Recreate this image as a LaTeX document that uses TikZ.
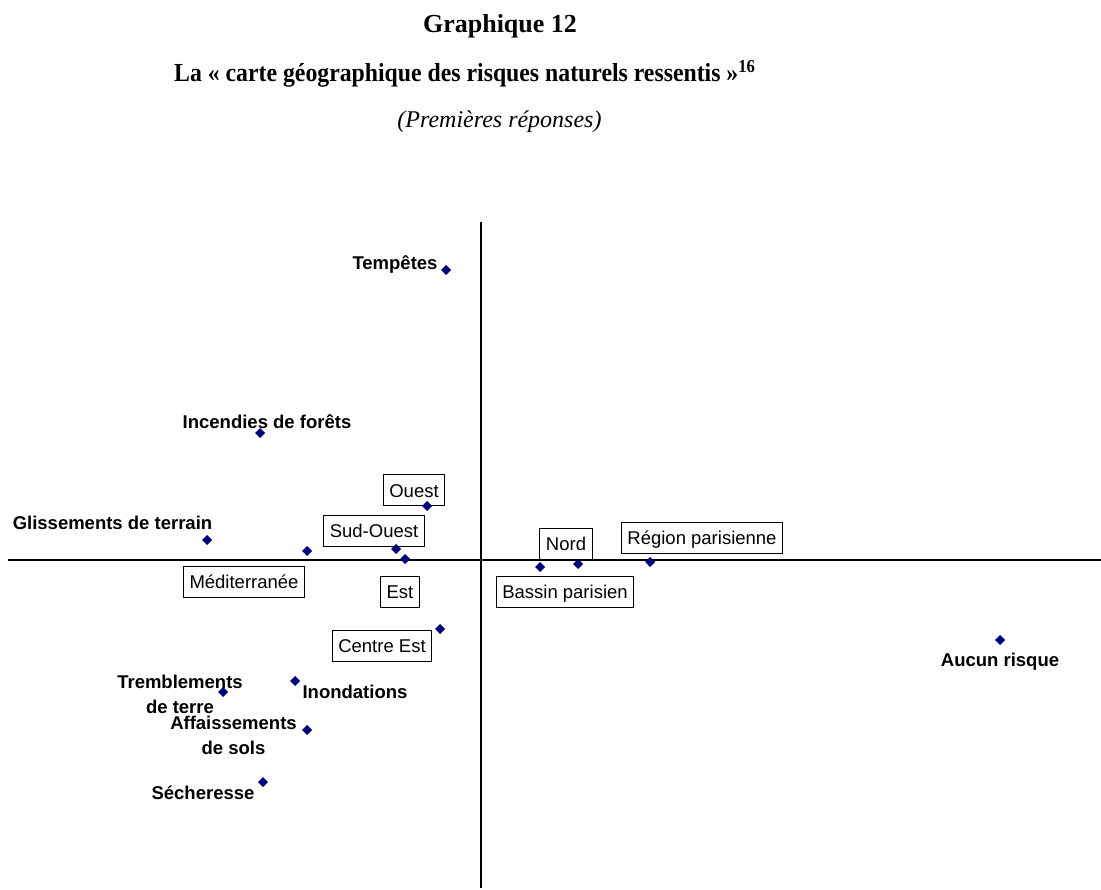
\documentclass[tikz,border=0pt]{standalone}
\usepackage{fontspec}
\setmainfont{Liberation Serif}
\setsansfont{Liberation Sans}
\usetikzlibrary{shapes.geometric}
\definecolor{navy}{RGB}{0,0,128}

\begin{document}
\begin{tikzpicture}[x=1pt,y=-1pt]
  \tikzset{PointStyle/.style = {
    shape         = diamond,
    draw          = none,
    fill          = navy,
    inner sep     = 0pt,
    outer sep     = 0pt,
    minimum size  = 10pt
    }
  }
  \tikzset{RiskStyle/.style = {
    anchor        = base,
    align         = center,
    text          = black,
    inner sep     = 0pt,
    font          = \sffamily\bfseries\fontsize{18.5}{25}\selectfont
    }
  }
  \tikzset{RegionStyle/.style = {
    shape         = rectangle,
    draw          = black,
    fill          = white,
    line width    = 1pt,
    text          = black,
    text height   = 13.2pt,
    text depth    = 0pt,
    inner xsep    = 6pt,
    inner ysep    = 8.9pt,
    font          = \sffamily\fontsize{18.5}{22}\selectfont
    }
  }
  \tikzset{TitleStyle/.style = {
    anchor        = base,
    inner sep     = 0pt,
    font          = \bfseries\fontsize{26}{30}\selectfont
    }
  }
  \tikzset{AxisStyle/.style = {
    draw          = black,
    line width    = 2pt
    }
  }

  \useasboundingbox (0,0) rectangle (1101,890);

  \node[TitleStyle](T1) at (500, 33) {Graphique 12};
  \node[TitleStyle, anchor=base west](T2) at (174, 82) {\scalebox{0.914}[1]{La « carte géographique des risques naturels ressentis »\textsuperscript{16}}};
  \node[TitleStyle, font=\itshape\fontsize{24}{30}\selectfont](T3) at (499.5, 128) {(Premières réponses)};

  \coordinate (Xw) at (8, 560);
  \coordinate (Xe) at (1101, 560);
  \coordinate (Yn) at (481, 222);
  \coordinate (Ys) at (481, 888);
  \draw[AxisStyle] (Xw) -- (Xe);
  \draw[AxisStyle] (Yn) -- (Ys);

  \node[RiskStyle](L01) at (395, 269.6) {Tempêtes};
  \node[RiskStyle](L02) at (267, 428.6) {Incendies de forêts};
  \node[RiskStyle](L03) at (112.5, 529.6) {Glissements de terrain};
  \node[RiskStyle](L04) at (1000, 666.6) {Aucun risque};
  \node[RiskStyle](L05) at (180, 713.6) {Tremblements\\de terre};
  \node[RiskStyle](L06) at (355, 698.6) {Inondations};
  \node[RiskStyle](L07) at (233.5, 754.6) {Affaissements\\de sols};
  \node[RiskStyle](L08) at (203, 799.6) {Sécheresse};

  \node[RegionStyle](R01) at (414, 490.5) {Ouest};
  \node[RegionStyle](R02) at (374, 530.5) {Sud-Ouest};
  \node[RegionStyle](R03) at (244, 582) {Méditerranée};
  \node[RegionStyle](R04) at (400, 592) {Est};
  \node[RegionStyle](R05) at (382, 646) {Centre Est};
  \node[RegionStyle](R06) at (566, 544) {Nord};
  \node[RegionStyle](R07) at (702, 537.5) {Région parisienne};
  \node[RegionStyle](R08) at (565, 592) {Bassin parisien};

  \node[PointStyle](P01) at (446, 270) {};
  \node[PointStyle](P02) at (260, 433) {};
  \node[PointStyle](P03) at (207, 540) {};
  \node[PointStyle](P04) at (1000, 640) {};
  \node[PointStyle](P05) at (223, 692) {};
  \node[PointStyle](P06) at (295, 681) {};
  \node[PointStyle](P07) at (307, 730) {};
  \node[PointStyle](P08) at (263, 782) {};
  \node[PointStyle](P09) at (427, 506) {};
  \node[PointStyle](P10) at (396, 549) {};
  \node[PointStyle](P11) at (307, 551) {};
  \node[PointStyle](P12) at (405, 559) {};
  \node[PointStyle](P13) at (440, 629) {};
  \node[PointStyle](P14) at (578, 564) {};
  \node[PointStyle](P15) at (650, 562) {};
  \node[PointStyle](P16) at (540, 567) {};

\end{tikzpicture}
\end{document}
